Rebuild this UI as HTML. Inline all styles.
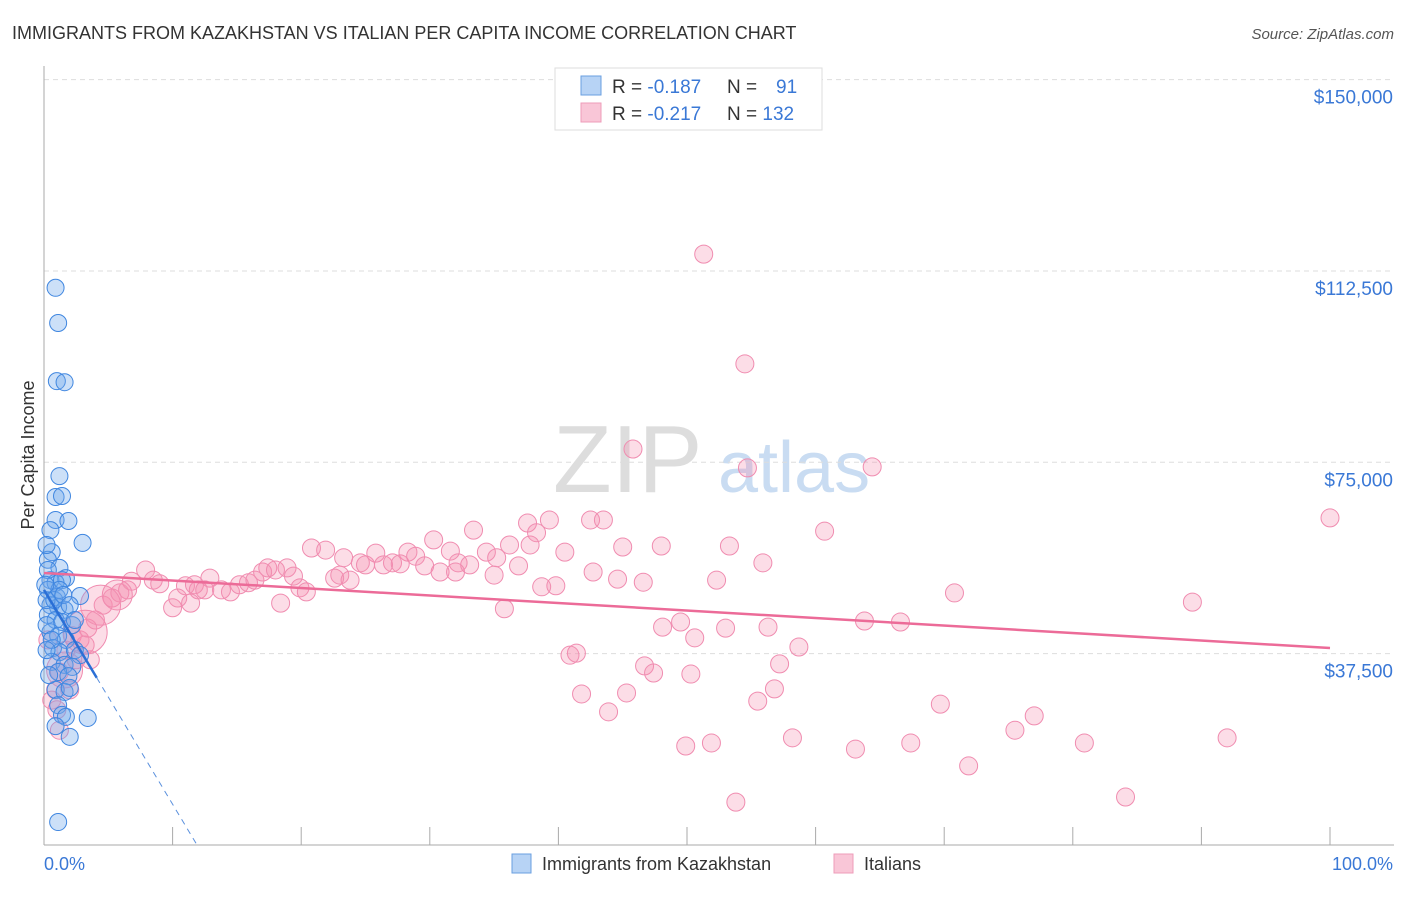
<!DOCTYPE html>
<html><head><meta charset="utf-8"><style>
body{margin:0;background:#fff;font-family:"Liberation Sans",sans-serif;}
svg text{font-family:"Liberation Sans",sans-serif;}
</style></head><body>
<svg id="chart" width="1406" height="892" viewBox="0 0 1406 892">
<text x="12" y="39" font-size="18" fill="#333">IMMIGRANTS FROM KAZAKHSTAN VS ITALIAN PER CAPITA INCOME CORRELATION CHART</text>
<text x="1394" y="39" font-size="15" fill="#555" font-style="italic" text-anchor="end">Source: ZipAtlas.com</text>
<g>
<text x="553" y="492" font-size="96" fill="#ddd" font-family="Liberation Serif,serif">ZIP</text>
<text x="718" y="492" font-size="72" fill="#c9dcf2">atlas</text>
</g>
<g id="grid"></g>
<g id="axes"></g>
<g id="pink"></g>
<g id="blue"></g>
<g id="trends"></g>
<text transform="translate(34,455) rotate(-90)" font-size="18" fill="#333" text-anchor="middle">Per Capita Income</text>
<text x="44" y="870" font-size="18" fill="#3a78d6">0.0%</text>
<text x="1393" y="870" font-size="18" fill="#3a78d6" text-anchor="end">100.0%</text>
<g>
<rect x="555" y="68" width="267" height="62" fill="#fff" stroke="#ddd"/>
<rect x="581" y="76" width="20" height="19" fill="#b7d3f5" stroke="#6a9fe0"/>
<rect x="581" y="103" width="20" height="19" fill="#f9c6d7" stroke="#ee9cba"/>
<text x="612" y="93" font-size="19" fill="#333">R = <tspan fill="#3a78d6">-0.187</tspan></text>
<text x="727" y="93" font-size="19" fill="#333">N = <tspan fill="#3a78d6" x="776">91</tspan></text>
<text x="612" y="120" font-size="19" fill="#333">R = <tspan fill="#3a78d6">-0.217</tspan></text>
<text x="727" y="120" font-size="19" fill="#333">N = <tspan fill="#3a78d6">132</tspan></text>
</g>
<g>
<rect x="512" y="854" width="19" height="19" fill="#b7d3f5" stroke="#6a9fe0"/>
<text x="542" y="870" font-size="18" fill="#333">Immigrants from Kazakhstan</text>
<rect x="834" y="854" width="19" height="19" fill="#f9c6d7" stroke="#ee9cba"/>
<text x="864" y="870" font-size="18" fill="#333">Italians</text>
</g>
</svg>
<script>
const yTicks=[37500,75000,112500,150000];
const yTickLabels=["$37,500","$75,000","$112,500","$150,000"];
const xTicks=[10,20,30,40,50,60,70,80,90,100];
// Italians: pct, income (k$)
const pinkX=[51.3,54.5,45.8,54.7,64.4,100,60.7,39.3,42.5,43.5,37.6,38.3,33.4,34.4,35.2,36.2,37.8,40.5,45.0,48.0,53.3,55.9,20.8,21.9,23.3,25.8,28.3,30.3,31.6,32.2,33.1,35.0,36.9,42.7,44.6,46.6,52.3,38.7,39.8,70.8,89.3,35.8,18.4,48.1,49.5,53.0,56.3,50.6,63.8,66.6,58.7,40.9,41.4,46.7,47.4,50.3,57.2,41.8,45.3,56.8,43.9,55.5,69.7,77.0,75.5,49.9,51.9,58.2,63.1,67.4,80.9,92.0,71.9,53.8,84.1,
0.9,1.2,1.7,2.2,2.8,3.4,4.0,4.6,5.3,5.9,6.5,6.8,7.9,8.5,9.0,10.0,10.4,11.0,11.7,12.0,12.9,13.8,14.5,15.2,15.9,16.4,17.0,17.4,18.0,18.9,19.4,19.9,20.4,22.6,23.0,23.8,24.6,25.0,26.4,27.1,27.7,28.9,29.6,30.8,32.0,12.5,11.4,1.0,1.2,0.6,2.0,2.5,3.2,0.3,3.6];
const pinkY=[115.8,94.3,77.6,73.9,74.1,64.1,61.5,63.7,63.7,63.7,63.1,61.2,61.7,57.4,56.3,58.8,58.8,57.4,58.4,58.6,58.6,55.3,58.2,57.8,56.3,57.2,57.4,59.8,57.6,55.3,54.9,52.9,54.7,53.5,52.1,51.5,51.9,50.6,50.8,49.4,47.6,46.3,47.4,42.7,43.7,42.5,42.7,40.6,43.9,43.7,38.8,37.2,37.6,35.1,33.7,33.5,35.5,29.6,29.8,30.6,26.1,28.2,27.6,25.3,22.5,19.4,20.0,21.0,18.8,20.0,20.0,21.0,15.5,8.4,9.4,
30.4,33.9,38.2,41.0,40.2,42.5,44.1,47.0,48.4,49.4,50.0,51.7,53.9,51.9,51.2,46.5,48.4,50.8,51.0,50.0,52.3,50.0,49.6,51.0,51.4,51.9,53.5,54.3,53.9,54.3,52.7,50.4,49.6,52.3,52.9,51.9,55.3,54.9,54.9,55.3,55.1,56.6,54.7,53.5,53.5,50.0,47.4,26.5,22.5,28.4,30.4,36.3,39.2,40.2,36.3];
const pinkBigX=[4.4,3.2,5.7,1.6];
const pinkBigY=[47.0,41.7,49.0,34.3];
const pinkBigR=[20,22,15,18];
// Kazakhstan immigrants
const blueX=[0.9,1.1,1.0,1.6,1.2,0.9,1.4,0.9,1.9,0.5,3.0,0.6,0.3,1.2,1.7,0.5,0.9,1.4,0.3,1.0,2.8,0.5,1.1,1.6,0.3,0.9,1.4,2.2,0.5,1.1,1.7,0.7,1.2,2.4,2.8,0.6,1.6,2.2,1.1,1.9,0.9,1.6,2.0,1.1,1.4,1.7,3.4,0.9,2.0,1.1,0.3,0.2,0.2,0.6,0.2,0.4,0.2,0.8,1.2,1.5,0.1,2.0,2.4];
const blueY=[109.2,102.3,90.9,90.7,72.3,68.2,68.4,63.7,63.5,61.7,59.2,57.4,55.9,54.3,52.3,51.9,51.4,51.9,50.0,48.6,48.8,47.0,46.6,46.1,45.1,44.1,43.7,43.1,41.7,41.0,40.2,38.6,37.8,38.2,37.2,35.9,35.3,34.9,33.9,33.1,30.4,30.0,30.8,27.4,25.5,25.1,24.9,23.3,21.2,4.5,53.9,48.0,43.1,40.2,38.2,33.3,58.8,48.0,50.0,49.0,51.0,47.0,44.1];
const pinkTrend=[53.3,38.6]; // at 0% and 100%
const blueTrend=[50.0,0]; const blueTrendEnd=11.9; const blueSolidEnd=4.1;

const NS="http://www.w3.org/2000/svg";
const X0=44,X1=1330,Y0=845,YT=79.6;
const sx=p=>X0+(X1-X0)*p/100;
const sy=v=>Y0-(Y0-YT)*v/150000;
const syk=k=>sy(k*1000);
function mk(tag,attrs,parent){const e=document.createElementNS(NS,tag);for(const k in attrs)e.setAttribute(k,attrs[k]);parent.appendChild(e);return e;}
const grid=document.getElementById('grid'),axes=document.getElementById('axes');
yTicks.forEach((t,i)=>{
 const l=mk('line',{x1:X0,x2:1394,y1:sy(t),y2:sy(t),stroke:'#ddd','stroke-dasharray':'5,4'},grid);
 
 
 const tx=mk('text',{x:1393,y:sy(t)+24,'font-size':19,fill:'#3a78d6','text-anchor':'end'},axes);
 tx.textContent=yTickLabels[i];
 
 
});
const ya=mk('line',{x1:X0,x2:X0,y1:66,y2:Y0,stroke:'#aaa'},axes);


const xa=mk('line',{x1:X0,x2:1394,y1:Y0,y2:Y0,stroke:'#aaa'},axes);


xTicks.forEach(t=>{
 const l=mk('line',{x1:sx(t),x2:sx(t),y1:Y0-18,y2:Y0,stroke:'#aaa'},axes);
 
 
});
const pg=document.getElementById('pink');
pinkX.forEach((p,i)=>{
 const c=mk('circle',{cx:sx(p),cy:syk(pinkY[i]),r:9,fill:'rgba(244,143,177,0.3)',stroke:'#f08cb0','stroke-width':1},pg);
 
 
});
pinkBigX.forEach((p,i)=>{
 const c=mk('circle',{cx:sx(p),cy:syk(pinkBigY[i]),r:pinkBigR[i],fill:'rgba(244,143,177,0.3)',stroke:'#f08cb0','stroke-width':1},pg);
 
 
});
const bg=document.getElementById('blue');
blueX.forEach((p,i)=>{
 const c=mk('circle',{cx:sx(p),cy:syk(blueY[i]),r:8.5,fill:'rgba(110,165,235,0.35)',stroke:'#3f86e0','stroke-width':1},bg);
 
 
});
const tg=document.getElementById('trends');
const pl=mk('line',{x1:sx(0),y1:syk(pinkTrend[0]),x2:sx(100),y2:syk(pinkTrend[1]),stroke:'#ec6b98','stroke-width':2.5},tg);


const bAt=p=>blueTrend[0]+(blueTrend[1]-blueTrend[0])*p/blueTrendEnd;
const bl=mk('line',{x1:sx(0),y1:syk(bAt(0)),x2:sx(blueSolidEnd),y2:syk(bAt(blueSolidEnd)),stroke:'#2a6fd6','stroke-width':2.5},tg);


const bd=mk('line',{x1:sx(blueSolidEnd),y1:syk(bAt(blueSolidEnd)),x2:sx(blueTrendEnd),y2:syk(bAt(blueTrendEnd)),stroke:'#5a90dd','stroke-width':1,'stroke-dasharray':'6,5'},tg);


</script>
</body></html>
